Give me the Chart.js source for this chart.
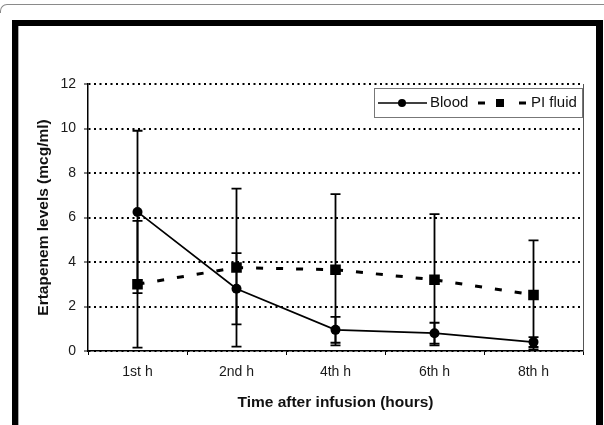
<!DOCTYPE html>
<html>
<head>
<meta charset="utf-8">
<script src="https://cdn.jsdelivr.net/npm/chart.js@4/dist/chart.umd.min.js"></script>
<style>
    html, body { margin: 0; padding: 0; background: #fff; }
    #wrap { position: relative; width: 604px; height: 425px; overflow: hidden; }
    #chart { position: absolute; left: 0; top: 0; }
    .topline { position: absolute; left: 0; top: 4px; width: 610px; height: 8px;
        border-top: 1px solid #8a8a8a; border-left: 1px solid #8a8a8a; border-top-left-radius: 7px; }
    .frame { position: absolute; left: 12px; top: 20px; width: 578px; height: 420px;
        border-left: 6px solid #000; border-top: 6px solid #000; border-right: 7px solid #000; }
    .frame-inner { position: absolute; left: 18px; top: 26px; width: 577px; height: 420px;
        border-left: 1px solid #aaa; border-right: 1px solid #aaa; }
</style>
</head>
<body>
<div id="wrap">
    <canvas id="chart" width="604" height="425"></canvas>
    <div class="topline"></div>
    <div class="frame-inner"></div>
    <div class="frame"></div>
</div>
<script>
// values
const hours = ['1st h', '2nd h', '4th h', '6th h', '8th h'];
const blood = [6.25, 2.8, 0.95, 0.8, 0.4];
const bloodErr = [3.65, 1.6, 0.58, 0.47, 0.22];
const piFluid = [3.0, 3.75, 3.65, 3.2, 2.52];
const piFluidErr = [2.85, 3.55, 3.4, 2.95, 2.45];
const yTicks = [0, 2, 4, 6, 8, 10, 12];

const errors = [bloodErr, piFluidErr];
const FONT = "'Liberation Sans', Arial, sans-serif";

// draws the +/- error whiskers behind the markers
const errorBars = {
    id: 'errorBars',
    beforeDatasetsDraw(chart) {
        const ctx = chart.ctx;
        const y = chart.scales.y;
        ctx.save();
        ctx.strokeStyle = '#000';
        ctx.lineWidth = 1.8;
        chart.data.datasets.forEach((ds, i) => {
            const meta = chart.getDatasetMeta(i);
            meta.data.forEach((pt, j) => {
                const hi = y.getPixelForValue(ds.data[j] + errors[i][j]);
                const lo = y.getPixelForValue(Math.max(0, ds.data[j] - errors[i][j]));
                ctx.beginPath();
                ctx.moveTo(pt.x, hi); ctx.lineTo(pt.x, lo);
                ctx.moveTo(pt.x - 5, hi); ctx.lineTo(pt.x + 5, hi);
                ctx.moveTo(pt.x - 5, lo); ctx.lineTo(pt.x + 5, lo);
                ctx.stroke();
            });
        });
        ctx.restore();
    }
};

// right border of the plot and the excel style legend box
const extras = {
    id: 'extras',
    afterDraw(chart) {
        const ctx = chart.ctx;
        const a = chart.chartArea;
        ctx.save();
        ctx.strokeStyle = '#555';
        ctx.lineWidth = 1;
        ctx.beginPath();
        ctx.moveTo(a.right + 0.5, a.top);
        ctx.lineTo(a.right + 0.5, a.bottom);
        ctx.stroke();

        const bx = a.right - 209, by = a.top + 4, bw = 208, bh = 29;
        ctx.fillStyle = '#fff';
        ctx.fillRect(bx, by, bw, bh);
        ctx.strokeStyle = '#777';
        ctx.strokeRect(bx + 0.5, by + 0.5, bw, bh);
        const cy = by + bh / 2 + 0.5;
        const ds = chart.data.datasets;

        // blood: solid line + circle
        ctx.strokeStyle = '#000';
        ctx.lineWidth = 1.6;
        ctx.beginPath();
        ctx.moveTo(bx + 4, cy); ctx.lineTo(bx + 53, cy);
        ctx.stroke();
        ctx.fillStyle = '#000';
        ctx.beginPath();
        ctx.arc(bx + 28, cy, 4, 0, Math.PI * 2);
        ctx.fill();
        ctx.font = '15px ' + FONT;
        ctx.textBaseline = 'middle';
        ctx.fillStyle = '#111';
        ctx.fillText(ds[0].label, bx + 56, cy);

        // pi fluid: dash, square, dash
        ctx.fillStyle = '#000';
        ctx.fillRect(bx + 104, cy - 1.5, 7, 3);
        ctx.fillRect(bx + 122, cy - 4, 8, 8);
        ctx.fillRect(bx + 145, cy - 1.5, 7, 3);
        ctx.fillStyle = '#111';
        ctx.fillText(ds[1].label, bx + 157, cy);
        ctx.restore();
    }
};

new Chart(document.getElementById('chart'), {
    type: 'line',
    data: {
        labels: hours,
        datasets: [{
            label: 'Blood',
            data: blood,
            borderColor: '#000',
            backgroundColor: '#000',
            borderWidth: 1.7,
            pointStyle: 'circle',
            pointRadius: 5,
            pointBorderWidth: 0,
            tension: 0
        }, {
            label: 'PI fluid',
            data: piFluid,
            borderColor: '#000',
            backgroundColor: '#000',
            borderWidth: 3,
            borderDash: [7, 13],
            pointStyle: 'rect',
            pointRadius: 7.5,
            pointBorderWidth: 0,
            tension: 0
        }]
    },
    options: {
        responsive: false,
        animation: false,
        devicePixelRatio: 1,
        layout: { padding: { left: 30, top: 84, right: 21, bottom: 0 } },
        plugins: { legend: { display: false }, tooltip: { enabled: false } },
        scales: {
            x: {
                offset: true,
                afterFit: s => { s.height = 74; },
                grid: { display: true, drawOnChartArea: false, drawTicks: true, offset: true,
                    tickLength: 4, color: '#000', tickColor: '#000', tickWidth: 1 },
                border: { color: '#000', width: 1.5 },
                ticks: { color: '#1a1a1a', padding: 9, font: { family: FONT, size: 14 } },
                title: { display: true, text: 'Time after infusion (hours)', color: '#111',
                    padding: { top: 0, bottom: 13 }, font: { family: FONT, size: 15.5, weight: 'bold' } }
            },
            y: {
                min: 0,
                max: 12,
                afterFit: s => { s.width = 58; },
                afterBuildTicks: s => { s.ticks = yTicks.map(v => ({ value: v })); },
                grid: { color: '#000', lineWidth: 2, tickBorderDash: [],
                    tickColor: '#000', tickWidth: 1, tickLength: 4 },
                border: { color: '#000', width: 1.5, dash: [2, 3.5] },
                ticks: { color: '#1a1a1a', padding: 8, font: { family: FONT, size: 14 } },
                title: { display: true, text: 'Ertapenem levels (mcg/ml)', color: '#111',
                    padding: { top: 4, bottom: 0 }, font: { family: FONT, size: 15.5, weight: 'bold' } }
            }
        }
    },
    plugins: [errorBars, extras]
});
</script>
</body>
</html>
